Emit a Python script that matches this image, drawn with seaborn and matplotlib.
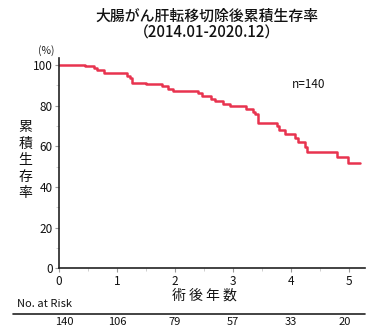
import matplotlib
matplotlib.use("Agg")
import matplotlib.pyplot as plt
import seaborn as sns
import pandas as pd
from matplotlib.lines import Line2D

# Kaplan-Meier step curve (years after surgery, cumulative survival %)
years = [0.0, 0.45, 0.60, 0.65, 0.775, 1.166, 1.224, 1.264, 1.494, 1.771,
         1.885, 1.971, 2.40, 2.46, 2.62, 2.69, 2.82, 2.948, 3.224, 3.35,
         3.38, 3.437, 3.754, 3.80, 3.897, 4.07, 4.126, 4.241, 4.28, 4.798,
         4.988, 5.19]
survival = [100.0, 99.4, 98.6, 97.3, 96.0, 94.8, 93.7, 91.2, 90.4, 89.4,
            88.3, 87.1, 86.0, 84.7, 83.4, 82.1, 80.9, 79.6, 78.5, 77.1,
            76.0, 71.4, 69.8, 67.8, 66.2, 64.2, 62.1, 59.6, 57.1, 54.7,
            51.9, 51.9]

risk_years = [0, 1, 2, 3, 4, 5]
at_risk = [140, 106, 79, 57, 33, 20]

x_ticks = [0, 1, 2, 3, 4, 5]
y_ticks = [0, 20, 40, 60, 80, 100]

title_main = "大腸がん肝転移切除後累積生存率"
title_period = "（2014.01-2020.12）"
y_label_chars = "累積生存率"
x_label = "術 後 年 数"
n_label = "n=140"

sns.set_theme(style="white")
plt.rcParams["font.family"] = ["Noto Sans CJK JP", "DejaVu Sans"]

df = pd.DataFrame({"years": years, "survival": survival})

fig = plt.figure(figsize=(3.8, 3.36), dpi=100)
ax = fig.add_axes([0.1553, 0.2009, 0.8053, 0.6265])

sns.lineplot(data=df, x="years", y="survival", ax=ax, color="#E8334F",
             linewidth=1.8, drawstyle="steps-post", estimator=None)

ax.set_xlim(0, 5.276)
ax.set_ylim(0, 103.4)
ax.set_xticks(x_ticks)
ax.set_yticks(y_ticks)
ax.set_xticks([0.5, 1.5, 2.5, 3.5, 4.5], minor=True)
ax.set_yticks([10, 30, 50, 70, 90], minor=True)
ax.tick_params(axis="both", which="major", direction="out", length=3,
               width=0.8, color="#9a9a9a", labelsize=8.5, pad=1.5,
               labelcolor="#111111")
ax.tick_params(axis="both", which="minor", direction="out", length=2,
               width=0.6, color="#c8c8c8")
ax.tick_params(axis="x", which="both", bottom=True)
ax.tick_params(axis="y", which="both", left=True)
ax.set_xlabel("")
ax.set_ylabel("")

for side in ("top", "right"):
    ax.spines[side].set_visible(False)
for side in ("left", "bottom"):
    ax.spines[side].set_color("#222222")
    ax.spines[side].set_linewidth(1.2)

# Titles
fig.text(0.544, 0.952, title_main, ha="center", va="center",
         fontsize=10.7, color="#111111", fontweight="medium")
fig.text(0.544, 0.902, title_period, ha="center", va="center",
         fontsize=10.7, color="#111111", fontweight="medium")

# Unit and axis labels
fig.text(0.123, 0.851, "(%)", ha="center", va="center", fontsize=7.5,
         color="#222222")
for i, ch in enumerate(y_label_chars):
    fig.text(0.066, 1 - (127 + i * 16.5) / 336, ch, ha="center",
             va="center", fontsize=10, color="#111111")
fig.text(204 / 380, 1 - 296 / 336, x_label, ha="center", va="center",
         fontsize=10, color="#111111")
ax.text(4.3, 90.5, n_label, ha="center", va="center", fontsize=8.5,
        color="#111111")

# Number-at-risk table
fig.text(17 / 380, 1 - 304 / 336, "No. at Risk", ha="left", va="center",
         fontsize=8, color="#111111")
fig.add_artist(Line2D([13 / 380, 365 / 380], [1 - 313.5 / 336] * 2,
                      transform=fig.transFigure, color="#222222",
                      linewidth=1.2))
offsets = {0: 0.1, 5: -0.08}
for yr, n in zip(risk_years, at_risk):
    ax.text(yr + offsets.get(yr, 0), -(321.5 - 268.5) / 2.035, str(n),
            ha="center", va="center", fontsize=8, color="#111111",
            clip_on=False)

fig.savefig("out.png", dpi=100)
